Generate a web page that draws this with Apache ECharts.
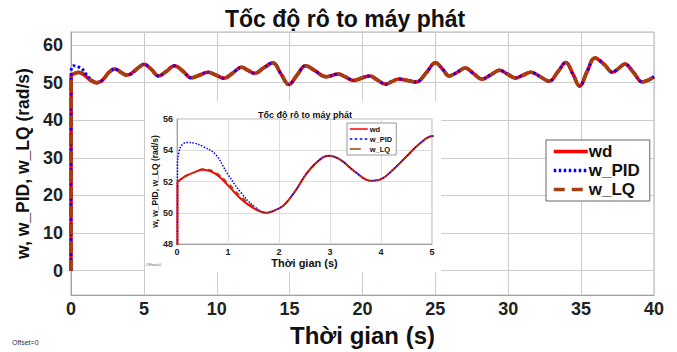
<!DOCTYPE html>
<html><head><meta charset="utf-8">
<script src="https://cdn.jsdelivr.net/npm/echarts@6/dist/echarts.min.js"></script>
<style>html,body{margin:0;padding:0;background:#fff}#c{width:677px;height:352px}</style>
</head><body><div id="c"></div>
<script>
const titleText = 'Tốc độ rô to máy phát';
const xName = 'Thời gian (s)';
const yName = 'w, w_PID, w_LQ (rad/s)';
const seriesNames = ['wd', 'w_PID', 'w_LQ'];

const time = [0,0.01,0.04,0.1,0.2,0.35,0.5,0.75,1.0,1.25,1.5,1.75,1.95,2.1,2.3,2.55,2.8,2.97,3.2,3.5,3.8,4.0,4.25,4.5,4.75,5.0,5.5,6.0,6.5,7.1,7.7,8.25,8.8,9.4,9.95,10.5,11.1,11.7,12.15,12.6,13.2,13.85,14.4,14.95,15.5,16.1,16.7,17.5,18.35,18.8,19.4,19.9,20.5,21.0,21.6,22.0,22.5,23.1,23.7,24.4,25.0,25.5,25.95,26.5,27.05,27.6,28.2,28.8,29.4,29.95,30.5,31.0,31.55,32.2,32.8,33.4,33.95,34.45,34.9,35.4,35.95,36.6,37.15,37.6,38.0,38.6,39.2,39.6,40];

const wd = [0,51.95,52.05,52.2,52.4,52.6,52.75,52.5,51.75,50.9,50.3,50.0,50.2,50.5,51.3,52.55,53.4,53.65,53.4,52.6,52.05,52.15,52.8,53.6,54.4,54.9,53.6,51.8,52.9,54.5,53.0,51.3,52.0,52.8,52.0,51.2,52.6,54.1,53.3,52.5,53.9,55.3,52.4,49.5,52.0,54.5,53.3,51.6,52.3,51.6,50.6,51.2,51.8,50.8,49.6,50.3,51.0,50.6,50.2,52.8,55.3,53.6,51.8,52.8,53.9,52.5,51.0,52.1,53.3,52.3,51.25,52.0,52.8,51.6,50.4,52.9,55.4,52.2,49.1,52.9,56.6,54.8,52.8,53.9,55.0,52.7,50.2,50.7,51.6];

const wPID = [0,53.0,53.9,54.35,54.5,54.45,54.25,53.75,52.45,51.3,50.45,50.0,50.2,50.5,51.3,52.55,53.4,53.65,53.4,52.6,52.05,52.15,52.8,53.6,54.4,54.9,53.6,51.8,52.9,54.5,53.0,51.3,52.0,52.8,52.0,51.2,52.6,54.1,53.3,52.5,53.9,55.3,52.4,49.5,52.0,54.5,53.3,51.6,52.3,51.6,50.6,51.2,51.8,50.8,49.6,50.3,51.0,50.6,50.2,52.8,55.3,53.6,51.8,52.8,53.9,52.5,51.0,52.1,53.3,52.3,51.25,52.0,52.8,51.6,50.4,52.9,55.4,52.2,49.1,52.9,56.6,54.8,52.8,53.9,55.0,52.7,50.2,50.7,51.6];

const wLQ = [0,51.95,52.05,52.2,52.4,52.6,52.8,52.6,51.9,51.05,50.4,50.0,50.2,50.5,51.3,52.55,53.4,53.65,53.4,52.6,52.05,52.15,52.8,53.6,54.4,54.9,53.6,51.8,52.9,54.5,53.0,51.3,52.0,52.8,52.0,51.2,52.6,54.1,53.3,52.5,53.9,55.3,52.4,49.5,52.0,54.5,53.3,51.6,52.3,51.6,50.6,51.2,51.8,50.8,49.6,50.3,51.0,50.6,50.2,52.8,55.3,53.6,51.8,52.8,53.9,52.5,51.0,52.1,53.3,52.3,51.25,52.0,52.8,51.6,50.4,52.9,55.4,52.2,49.1,52.9,56.6,54.8,52.8,53.9,55.0,52.7,50.2,50.7,51.6];

const FF = '"Liberation Sans", Arial, Helvetica, sans-serif';
const pts = arr => time.map((t, i) => [t, arr[i]]);
const colors = ['#ff0000', '#0000ff', '#a3400e'];
const gridCol = '#cccccc';

const chart = echarts.init(document.getElementById('c'), null, {renderer: 'svg'});

function mkSeries(axisIdx, widths, dashes) {
  const datas = [wd, wPID, wLQ];
  return seriesNames.map((n, k) => ({
    name: n, type: 'line', xAxisIndex: axisIdx, yAxisIndex: axisIdx,
    data: pts(datas[k]), symbol: 'none', showSymbol: false, smooth: 0.4,
    color: colors[k], animation: false, z: (axisIdx === 0 ? 2 : 6) + k * 0.1,
    lineStyle: {color: colors[k], width: widths[k], type: dashes[k]}
  }));
}

const option = {
  animation: false,
  backgroundColor: '#fff',
  title: [
    {text: titleText, left: 220, top: 2,
     textStyle: {fontFamily: FF, fontSize: 23, fontWeight: 'bold', color: '#111'}},
    {text: titleText, left: 253, top: 105, z: 8,
     textStyle: {fontFamily: FF, fontSize: 9, fontWeight: 'bold', color: '#111'}}
  ],
  grid: [
    {left: 71, right: 23, top: 32, bottom: 45, show: true, borderColor: '#b5b5b5', borderWidth: 1, z: 0},
    {left: 177, right: 245, top: 119, bottom: 108, show: true, borderColor: '#b5b5b5', borderWidth: 1, backgroundColor: '#fff', z: 3}
  ],
  graphic: [
    {type: 'rect', z: 1, shape: {x: 145, y: 101, width: 296, height: 171}, style: {fill: '#fff'}},
    {type: 'text', z: 1, left: 12, top: 339, style: {text: 'Offset=0', font: '7px ' + FF, fill: '#333'}},
    {type: 'text', z: 9, left: 146, top: 262, style: {text: 'Offset=0', font: '4px ' + FF, fill: '#555'}}
  ],
  legend: [
    {data: seriesNames, orient: 'vertical', left: 546, top: 140, z: 9,
     itemWidth: 34, itemHeight: 14, itemGap: 2, padding: [3, 10, 3, 6],
     itemStyle: {opacity: 0}, lineStyle: {width: 3.5},
     backgroundColor: '#fff', borderColor: '#666', borderWidth: 1, borderRadius: 0,
     textStyle: {fontFamily: FF, fontSize: 17, fontWeight: 'bold', color: '#111', padding: [0, 0, 0, -4]}},
    {data: seriesNames, orient: 'vertical', left: 347, top: 123, z: 9,
     itemWidth: 18, itemHeight: 6, itemGap: 2, padding: [2, 4, 2, 2],
     itemStyle: {opacity: 0}, lineStyle: {width: 1.5},
     backgroundColor: '#fff', borderColor: '#999', borderWidth: 1, borderRadius: 0,
     textStyle: {fontFamily: FF, fontSize: 7.5, fontWeight: 'bold', color: '#111', padding: [0, 0, 0, -3]}}
  ],
  xAxis: [
    {gridIndex: 0, type: 'value', min: 0, max: 40, interval: 5, z: 0,
     axisLine: {show: true, onZero: false, lineStyle: {color: '#a0a0a0'}}, axisTick: {show: false},
     splitLine: {show: true, lineStyle: {color: gridCol, width: 1}},
     axisLabel: {fontFamily: FF, fontSize: 18, fontWeight: 'bold', color: '#222', margin: 5},
     name: xName, nameLocation: 'middle', nameGap: 22,
     nameTextStyle: {fontFamily: FF, fontSize: 24, fontWeight: 'bold', color: '#111'}},
    {gridIndex: 1, type: 'value', min: 0, max: 5, interval: 1, z: 4,
     axisLine: {show: true, onZero: false, lineStyle: {color: '#a0a0a0'}}, axisTick: {show: false},
     splitLine: {show: true, lineStyle: {color: '#dddddd', width: 1}},
     axisLabel: {fontFamily: FF, fontSize: 9, fontWeight: 'bold', color: '#222', margin: 3},
     name: xName, nameLocation: 'middle', nameGap: 13,
     nameTextStyle: {fontFamily: FF, fontSize: 11, fontWeight: 'bold', color: '#111'}}
  ],
  yAxis: [
    {gridIndex: 0, type: 'value', min: -6.5, max: 63.5, splitNumber: 7, z: 0,
     axisLine: {show: true, onZero: false, lineStyle: {color: '#a0a0a0'}}, axisTick: {show: false},
     splitLine: {show: true, lineStyle: {color: gridCol, width: 1}},
     axisLabel: {fontFamily: FF, fontSize: 18, fontWeight: 'bold', color: '#222', margin: 8,
                 showMinLabel: false, showMaxLabel: false},
     name: yName, nameLocation: 'middle', nameGap: 31,
     nameTextStyle: {fontFamily: FF, fontSize: 17.5, fontWeight: 'bold', color: '#111'}},
    {gridIndex: 1, type: 'value', min: 48, max: 56, interval: 2, z: 4,
     axisLine: {show: true, onZero: false, lineStyle: {color: '#a0a0a0'}}, axisTick: {show: false},
     splitLine: {show: true, lineStyle: {color: '#dddddd', width: 1}},
     axisLabel: {fontFamily: FF, fontSize: 9, fontWeight: 'bold', color: '#222', margin: 4},
     name: yName, nameLocation: 'middle', nameGap: 17,
     nameTextStyle: {fontFamily: FF, fontSize: 8.5, fontWeight: 'bold', color: '#111'}}
  ],
  series: [
    ...mkSeries(0, [3.5, 3, 3.5], ['solid', [2.5, 2.5], [11, 7]]),
    ...mkSeries(1, [2, 1.5, 1.5], ['solid', [1.5, 1.5], [5, 4]])
  ]
};
chart.setOption(option);
</script>
</body></html>
